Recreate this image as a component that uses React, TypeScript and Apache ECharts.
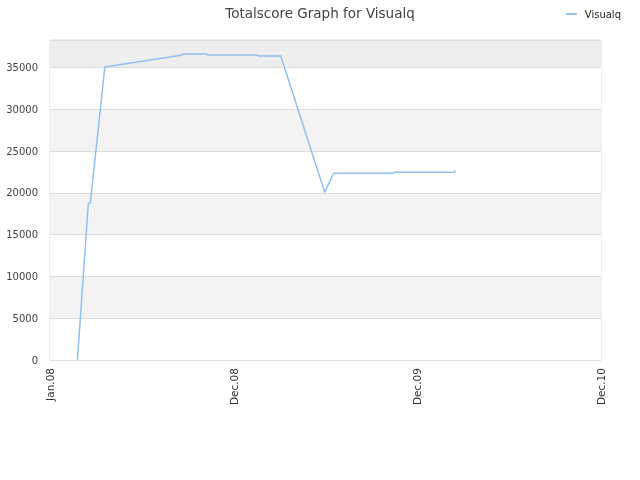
import React, { useEffect, useRef } from "react";
import * as echarts from "echarts";

const START = Date.UTC(2008, 0, 1);
const DAY = 86400000;

const dates = [
  "2008-02-23", "2008-03-15", "2008-03-19", "2008-04-16", "2008-09-10", "2008-09-14",
  "2008-10-30", "2008-10-31", "2009-02-04", "2009-02-05", "2009-03-22", "2009-06-15",
  "2009-07-02", "2009-10-26", "2009-10-27", "2010-02-21", "2010-02-22",
];
const scores = [
  0, 18700, 18800, 35050, 36450, 36600,
  36600, 36490, 36490, 36370, 36370, 20060,
  22340, 22340, 22460, 22460, 22700,
];
const tickLabels = ["Jan.08", "Dec.08", "Dec.09", "Dec.10"];
const TICK_DAYS = 355;

const toDay = (s: string) => {
  const [y, m, d] = s.split("-").map(Number);
  return Math.round((Date.UTC(y, m - 1, d) - START) / DAY);
};

export default function App() {
  const ref = useRef<HTMLDivElement>(null);
  useEffect(() => {
    const chart = echarts.init(ref.current!, null, { renderer: "svg" });
    const data = dates.map((d, i) => [toDay(d), scores[i]]);
    chart.setOption({
      animation: false,
      textStyle: { fontFamily: "DejaVu Sans" },
      title: {
        text: "Totalscore Graph for Visualq",
        left: "center",
        top: 1,
        textStyle: { fontSize: 13.5, fontWeight: "normal", color: "#444" },
      },
      legend: {
        data: ["Visualq"],
        right: 14,
        top: 4,
        itemWidth: 11,
        itemHeight: 2,
        itemGap: 6,
        icon: "rect",
        textStyle: { fontSize: 10, color: "#222", padding: [0, 0, 0, 3] },
      },
      grid: { left: 50, right: 39, top: 40, bottom: 120, show: true, borderColor: "#dddddd", borderWidth: 1 },
      xAxis: {
        type: "value",
        min: 0,
        max: TICK_DAYS * 3,
        interval: TICK_DAYS,
        axisLine: { show: false },
        axisTick: { show: false },
        splitLine: { show: false },
        axisLabel: {
          rotate: 90,
          fontSize: 10.5,
          color: "#333",
          margin: 8,
          formatter: (v: number) => tickLabels[Math.round(v / TICK_DAYS)] ?? "",
        },
      },
      yAxis: {
        type: "value",
        min: 0,
        max: 38285,
        interval: 5000,
        axisLine: { show: false },
        axisTick: { show: false },
        axisLabel: {
          fontSize: 10,
          color: "#444",
          margin: 12,
          showMaxLabel: false,
          formatter: (v: number) => String(v),
        },
        splitLine: { show: true, lineStyle: { color: "#dddddd", width: 1 } },
        splitArea: {
          show: true,
          areaStyle: {
            color: ["#ffffff", "#f3f3f3", "#ffffff", "#f3f3f3", "#ffffff", "#f3f3f3", "#ffffff", "#eeeeee"],
          },
        },
      },
      series: [
        {
          name: "Visualq",
          type: "line",
          data,
          showSymbol: false,
          symbol: "none",
          lineStyle: { color: "#90c0f0", width: 1.5 },
          itemStyle: { color: "#90c0f0" },
        },
      ],
    });
    return () => chart.dispose();
  }, []);
  return <div ref={ref} style={{ position: "fixed", left: 0, top: 0, width: 640, height: 480 }} />;
}
